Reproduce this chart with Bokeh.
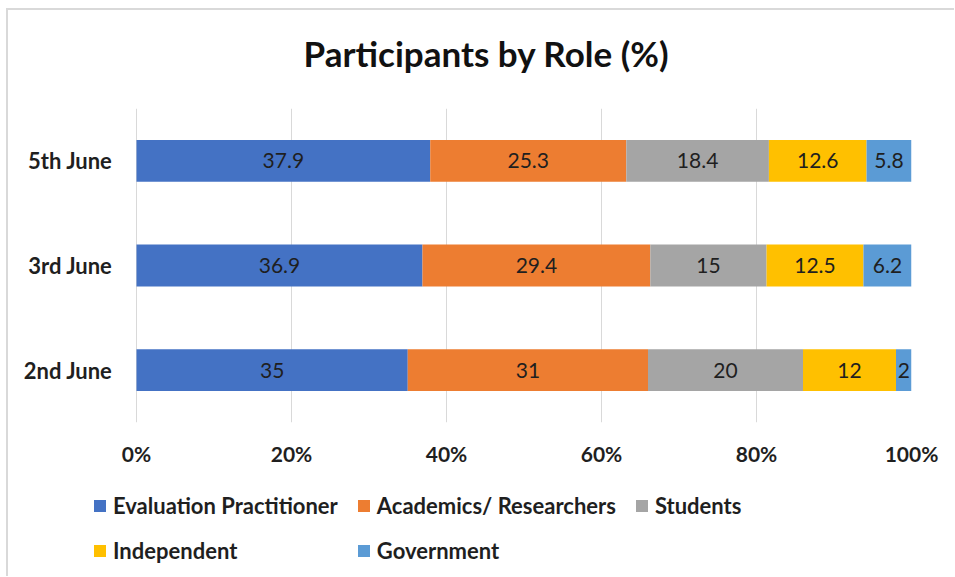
from bokeh.plotting import figure
from bokeh.layouts import column
from bokeh.models import ColumnDataSource, FixedTicker, Legend, LegendItem, Range1d, Label
from bokeh.core.properties import value
from bokeh.embed import file_html
from bokeh.resources import INLINE

# ---- data ----
dates = ["2nd June", "3rd June", "5th June"]
roles = ["Evaluation Practitioner", "Academics/ Researchers", "Students", "Independent", "Government"]
evaluation_practitioner = [35, 36.9, 37.9]
academics_researchers = [31, 29.4, 25.3]
students = [20, 15, 18.4]
independent = [12, 12.5, 12.6]
government = [2, 6.2, 5.8]
colors = ["#4472C4", "#ED7D31", "#A5A5A5", "#FFC000", "#5B9BD5"]
x_ticks = [0, 20, 40, 60, 80, 100]
x_tick_labels = ["0%", "20%", "40%", "60%", "80%", "100%"]
title_text = "Participants by Role (%)"

series = [evaluation_practitioner, academics_researchers, students, independent, government]
data = {"date": dates}
for r, s in zip(roles, series):
    data[r] = s
source = ColumnDataSource(data)

FONT = "Lato"
TXT = "#1f1f1f"
W = 946
X_START = -44 / 775 * 100   # frame extends 44px left of the 0% line (room for legend)

# ---- title strip ----
tt = figure(width=W, height=84, x_range=Range1d(X_START, 100), y_range=Range1d(0, 84),
            output_backend="svg", toolbar_location=None,
            x_axis_location=None, y_axis_location=None,
            min_border_left=84, min_border_right=43, min_border_top=0, min_border_bottom=0)
tt.grid.grid_line_color = None
tt.outline_line_color = None
tt.add_layout(Label(x=45.16, y=42, text=title_text, text_align="center", text_baseline="middle",
                    text_font=FONT, text_font_style="bold", text_font_size="35px",
                    text_color="#111111"))

# ---- main chart ----
p = figure(width=W, height=391, y_range=dates, x_range=Range1d(X_START, 100),
           output_backend="svg", toolbar_location=None,
           min_border_left=84, min_border_right=43, min_border_top=14, min_border_bottom=63)

renderers = p.hbar_stack(roles, y="date", height=0.4, color=colors, source=source, line_color=None)

# segment labels
lx, ly, lt = [], [], []
for i, d in enumerate(dates):
    cum = 0
    for s in series:
        v = s[i]
        lx.append(cum + v / 2)
        ly.append(d)
        lt.append(f"{v:g}")
        cum += v
lsrc = ColumnDataSource(dict(x=lx, y=ly, t=lt))
p.text(x="x", y="y", text="t", source=lsrc, text_align="center", text_baseline="middle",
       text_font=value(FONT), text_font_size="21px", text_color=TXT)

# axes
p.xaxis.ticker = FixedTicker(ticks=x_ticks)
p.xaxis.major_label_overrides = {t: l for t, l in zip(x_ticks, x_tick_labels)}
for ax in (p.xaxis, p.yaxis):
    ax.axis_line_color = None
    ax.major_tick_line_color = None
    ax.minor_tick_line_color = None
    ax.major_tick_in = 0
    ax.major_tick_out = 0
    ax.major_label_text_font = FONT
    ax.major_label_text_font_style = "bold"
    ax.major_label_text_font_size = "21px"
    ax.major_label_text_color = TXT
p.yaxis.major_label_text_font_size = "22px"
p.xaxis.major_label_standoff = 18
p.yaxis.major_label_standoff = -20

p.xgrid.grid_line_color = "#d9d9d9"
p.xgrid.grid_line_width = 1
p.ygrid.grid_line_color = None
p.outline_line_color = None

# ---- legend strip (swatches use the same series colours) ----
lg = figure(width=W, height=91, x_range=Range1d(0, 1), y_range=Range1d(0, 1),
            output_backend="svg", toolbar_location=None,
            x_axis_location=None, y_axis_location=None,
            min_border_left=84, min_border_right=43, min_border_top=0, min_border_bottom=0)
lg.grid.grid_line_color = None
lg.outline_line_color = None
swatches = lg.hbar_stack(roles, y="date", height=0.4, color=colors,
                         source=ColumnDataSource({"date": [-5.0], **{r: [1] for r in roles}}),
                         line_color=None)
items = [LegendItem(label=r, renderers=[rr]) for r, rr in zip(roles, swatches)]
legend = Legend(items=items, location=(0, 12), ncols=3, orientation="horizontal",
                label_text_font=FONT, label_text_font_style="bold", label_text_font_size="22px",
                label_text_color=TXT, glyph_width=15, glyph_height=15, label_standoff=6,
                spacing=18, padding=0, margin=0, border_line_color=None,
                background_fill_alpha=0)
lg.add_layout(legend, "center")

layout = column(tt, p, lg, spacing=0)
layout.styles = {"margin-left": "6px", "margin-top": "8px",
                 "border-top": "2px solid #d9d9d9", "border-left": "2px solid #d9d9d9"}

open("out.html", "w").write(file_html(layout, INLINE))
